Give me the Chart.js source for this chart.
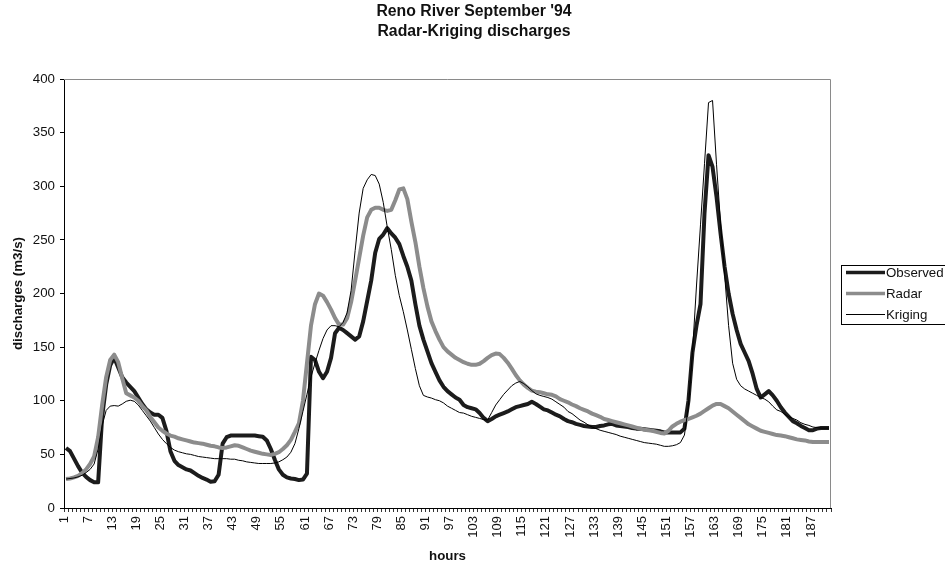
<!DOCTYPE html>
<html>
<head>
<meta charset="utf-8">
<script src="https://cdn.jsdelivr.net/npm/chart.js@4.4.1/dist/chart.umd.min.js"></script>
<style>
html,body{margin:0;padding:0;background:#fff;}
#wrap{width:945px;height:565px;position:relative;}
</style>
</head>
<body>
<div id="wrap"><canvas id="c" width="945" height="565"></canvas></div>
<script>
// ---- data ----
const hours = [];
for (let h = 1; h <= 191; h++) hours.push(String(h));

const tickLabels = ['1','7','13','19','25','31','37','43','49','55','61','67','73','79','85','91','97',
  '103','109','115','121','127','133','139','145','151','157','163','169','175','181','187'];

const yTicks = [0, 50, 100, 150, 200, 250, 300, 350, 400];

const observed = [
  56, 53, 46, 39, 33, 29, 26, 24, 24, 85,
  115, 133, 140, 131, 122, 117, 113, 109, 103, 97,
  92, 89, 87, 87, 84, 72, 53, 44, 40, 38,
  36, 35, 32.5, 30, 28, 26.5, 24.5, 25, 31, 60,
  66, 67.5, 67.5, 67.5, 67.5, 67.5, 67.5, 67.5, 67, 66.5,
  63, 55, 45, 36, 31, 28.5, 27.5, 27, 26, 26.5,
  32, 141, 138, 127, 121, 127, 140, 163, 168, 166,
  163, 160, 157, 160, 174, 193, 212, 238, 251, 255,
  261, 256, 252, 246, 235, 225, 212, 190, 170, 157,
  146, 135, 127, 119, 113, 109, 106, 103, 101, 96,
  94, 93, 92, 88.5, 84, 81, 83, 85.5, 87, 88.5,
  90, 92, 94, 95, 96, 97, 99, 97, 94.5, 92,
  91, 89, 87, 85.5, 83, 81, 80, 78.5, 77.5, 76.5,
  76, 75.5, 75.5, 76.5, 77, 78, 78.5, 77, 76.5, 76,
  75.5, 74.5, 74, 74, 73.5, 73, 72.5, 72, 71.5, 70.5,
  70.5, 70.5, 70.5, 70.5, 74, 100, 145, 170, 190, 275,
  329, 318, 290, 256, 225, 200, 181, 166, 153, 145,
  137, 125, 111, 103, 106, 109, 105, 100, 94, 89,
  85, 81, 79, 76.5, 74.5, 72.5, 72.5, 74, 74.5, 74.5, 74.5
];

const radar = [
  27, 27.5, 28.5, 30, 32.5, 36, 41, 48, 66, 96,
  122, 138, 143, 136, 121, 107, 105, 103, 100, 95,
  91, 85, 80, 75, 72, 69.5, 67.5, 66.5, 65, 64,
  63, 62, 61, 60.5, 60, 59, 58, 57.5, 56.5, 56,
  56.5, 57.5, 58.5, 58, 56.5, 55, 53.5, 52.5, 51.5, 50.5,
  50, 49.5, 50.5, 52, 55, 58.5, 63.5, 71, 79, 100,
  135, 170, 190, 200, 198, 192, 185, 177, 171, 171,
  177, 192, 212, 233, 254, 271, 278, 280, 280, 278,
  277, 278, 287, 297, 298, 288, 267, 248, 225, 205,
  188, 174, 165, 157, 150, 146, 143, 140, 138, 136,
  134.5, 133.5, 133.5, 134.5, 137, 140, 142.5, 144, 143.5, 140,
  135.5, 130, 124, 119, 115, 112, 109.5, 108.5, 108, 107,
  106, 105.5, 104, 101.5, 100, 98.5, 96.5, 95, 93, 91.5,
  90, 88, 86.5, 85, 83, 82, 81, 80, 79, 78,
  77, 76, 75, 74, 73, 72.5, 72, 71, 70, 69.5,
  72, 76, 78.5, 80.5, 82, 83, 84.5, 86, 88, 90.5,
  93, 95.5, 97, 97, 95, 93, 90, 87, 84, 81,
  78, 76, 74, 72, 71, 70, 69, 68, 67.5, 67,
  66, 65, 64, 63.5, 63, 62, 61.5, 61.5, 61.5, 61.5, 61.5
];

const kriging = [
  27, 27.5, 28, 29, 30.5, 33, 36, 41, 55, 77,
  91, 95, 95.5, 95, 97, 99.5, 100.5, 99.5, 96, 91,
  86, 81, 75, 69, 64, 60, 56.5, 54, 52.5, 51.5,
  50.5, 50, 49, 48, 47.5, 47, 46.5, 46, 46, 46,
  46, 45.5, 45.5, 44.5, 44, 43, 42.5, 42, 41.5, 41.5,
  41.5, 41.5, 42, 43, 45, 47.5, 52, 60, 74, 90,
  106, 122, 135, 147, 158, 166, 170, 170, 169, 173,
  182, 203, 240, 275, 298, 306, 311, 310, 302, 285,
  262, 241, 217, 198, 183, 166, 148, 130, 114, 105,
  103.5, 102.5, 101, 100, 98, 95, 93, 91, 89, 88.5,
  87, 85.5, 84.5, 83.5, 82.5, 82, 89, 96, 101, 106,
  110, 114, 116.5, 118, 116, 113, 109.5, 106.5, 105, 104,
  103, 101.5, 99, 96.5, 94, 90, 88, 85, 82, 80,
  77.5, 75.5, 74, 72.5, 71.5, 70.5, 69.5, 68.5, 67, 66,
  65, 64, 63, 62, 61, 60.5, 60, 59.5, 58.5, 57.5,
  57.5, 58, 59, 61, 68, 95, 145, 207, 264, 321,
  378, 380, 320, 265, 218, 170, 135, 120, 114, 111,
  109, 107, 105, 103, 101.5, 99, 95, 91.5, 90, 87.5,
  85, 83.5, 82, 79.5, 78, 77, 75.5, 75, 74.5, 74.5, 74.5
];

const seriesNames = ['Observed', 'Radar', 'Kriging'];
const titleLines = ["Reno River September '94", 'Radar-Kriging discharges'];

// ---- styling ----
const FONT = "'Liberation Sans', Arial, Helvetica, sans-serif";
const TXT = '#111';

const framePlugin = {
  id: 'frame',
  beforeDatasetsDraw(chart) {
    const {ctx, chartArea: a} = chart;
    ctx.save();
    ctx.strokeStyle = '#8a8a8a';
    ctx.lineWidth = 1;
    ctx.beginPath();
    ctx.moveTo(a.left, Math.round(a.top) + 0.5);
    ctx.lineTo(Math.round(a.right) - 0.5, Math.round(a.top) + 0.5);
    ctx.lineTo(Math.round(a.right) - 0.5, a.bottom);
    ctx.stroke();
    ctx.restore();
  }
};

const legendPlugin = {
  id: 'boxLegend',
  afterDraw(chart) {
    const ctx = chart.ctx;
    const ds = chart.data.datasets;
    ctx.save();
    ctx.strokeStyle = '#000';
    ctx.lineWidth = 1;
    ctx.strokeRect(841.5, 265.5, 130, 59);
    const ys = [272.5, 293.5, 314.5];
    const lw = [3.5, 3.5, 1];
    ctx.font = '13.3px ' + FONT;
    ctx.textBaseline = 'middle';
    ctx.textAlign = 'left';
    ds.forEach((d, i) => {
      ctx.strokeStyle = d.borderColor;
      ctx.lineWidth = lw[i];
      ctx.lineCap = 'butt';
      ctx.beginPath();
      ctx.moveTo(846, ys[i]);
      ctx.lineTo(885, ys[i]);
      ctx.stroke();
      ctx.fillStyle = TXT;
      ctx.fillText(d.label, 886, ys[i] + 0.5);
    });
    ctx.restore();
  }
};

const ctx = document.getElementById('c').getContext('2d');
new Chart(ctx, {
  type: 'line',
  data: {
    labels: hours,
    datasets: [
      {label: seriesNames[0], data: observed, borderColor: '#1c1c1c', borderWidth: 4, pointRadius: 0, tension: 0, borderJoinStyle: 'round', order: 3},
      {label: seriesNames[1], data: radar, borderColor: '#8c8c8c', borderWidth: 4, pointRadius: 0, tension: 0, borderJoinStyle: 'round', order: 2},
      {label: seriesNames[2], data: kriging, borderColor: '#000000', borderWidth: 1, pointRadius: 0, tension: 0, order: 1}
    ]
  },
  options: {
    responsive: false,
    animation: false,
    devicePixelRatio: 1,
    layout: {padding: {left: 3, right: 0, top: 0, bottom: 0}},
    plugins: {
      legend: {display: false},
      tooltip: {enabled: false},
      title: {
        display: true,
        text: titleLines,
        color: TXT,
        font: {family: FONT, size: 15.8, weight: 'bold', lineHeight: 1.266},
        padding: {top: 1.5, bottom: 37.5}
      }
    },
    scales: {
      x: {
        type: 'category',
        offset: true,
        grid: {display: true, drawOnChartArea: false, drawTicks: true, tickLength: 4, offset: true, color: '#333'},
        border: {display: true, color: '#000', width: 1},
        ticks: {
          autoSkip: false, minRotation: 90, maxRotation: 90, padding: 4, labelOffset: -2,
          color: TXT, font: {family: FONT, size: 13},
          callback: function(v) {
            const l = String(this.getLabelForValue(v));
            return tickLabels.includes(l) ? l : '';
          }
        },
        title: {display: true, text: 'hours', color: TXT, font: {family: FONT, size: 13.3, weight: 'bold'}, padding: {top: 0, bottom: 1}},
        afterFit: s => { s.height = 57; }
      },
      y: {
        min: 0, max: 400,
        afterBuildTicks: s => { s.ticks = yTicks.map(v => ({value: v})); },
        grid: {drawOnChartArea: false, drawTicks: true, tickLength: 4, color: '#000'},
        border: {display: true, color: '#000', width: 1},
        ticks: {padding: 5, color: TXT, font: {family: FONT, size: 13.3}},
        title: {display: true, text: 'discharges (m3/s)', color: TXT, font: {family: FONT, size: 13.3, weight: 'bold'}, padding: {top: 7, bottom: 0}},
        afterFit: s => { s.width = 61; }
      },
      yR: {
        type: 'linear', position: 'right', display: true,
        grid: {display: false}, ticks: {display: false}, border: {display: false},
        afterFit: s => { s.width = 114; }
      }
    }
  },
  plugins: [framePlugin, legendPlugin]
});
</script>
</body>
</html>
